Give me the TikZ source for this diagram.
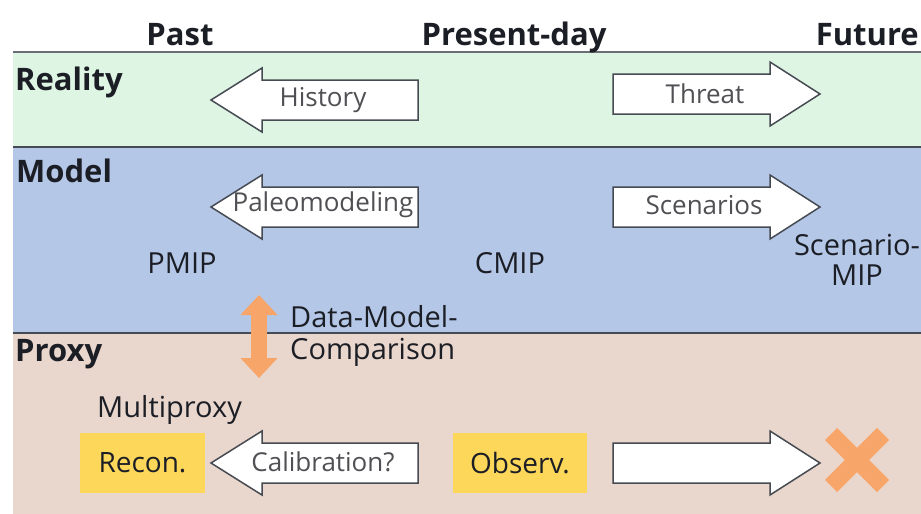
\documentclass[tikz,border=0pt]{standalone}
\usepackage{fontspec}
\setmainfont{Open Sans}
\usetikzlibrary{arrows.meta,positioning}
\definecolor{ink}{RGB}{28,30,38}
\definecolor{rule}{RGB}{70,74,82}
\definecolor{greyT}{RGB}{80,80,84}
\definecolor{realG}{RGB}{222,245,228}
\definecolor{modelB}{RGB}{180,199,231}
\definecolor{proxyT}{RGB}{233,214,204}
\definecolor{yel}{RGB}{252,215,90}
\definecolor{orng}{RGB}{247,165,105}
\tikzset{
  sep/.style={draw=rule,line width=2pt},
  hdr/.style={font=\fontsize{31}{36}\selectfont\bfseries,text=ink,inner sep=0pt},
  lbl/.style={font=\fontsize{29}{31}\selectfont,text=ink,inner sep=0pt},
  alab/.style={font=\fontsize{26}{30}\selectfont,text=greyT,inner sep=0pt},
  blk/.style={draw=rule,fill=white,line width=1.5pt,line join=miter},
  ybox/.style={fill=yel,minimum height=60pt,inner sep=0pt,font=\fontsize{28}{31}\selectfont,text=ink},
  dmarr/.style={draw=orng,line width=16pt,{Triangle[width=36pt,length=20pt]}-{Triangle[width=36pt,length=20pt]}},
  cross/.style={draw=orng,line width=17pt},
}
% block arrows: #1 = centre line of the arrow
\newcommand{\blkleft}[1]{\draw[blk] (211,#1) -- (262,#1-32) -- (262,#1-20) -- (418,#1-20)
  -- (418,#1+20) -- (262,#1+20) -- (262,#1+32) -- cycle;}
\newcommand{\blkright}[1]{\draw[blk] (820,#1) -- (770,#1-32) -- (770,#1-20) -- (613,#1-20)
  -- (613,#1+20) -- (770,#1+20) -- (770,#1+32) -- cycle;}

\begin{document}
\begin{tikzpicture}[x=1pt,y=-1pt]
\useasboundingbox (0,0) rectangle (921,514);
% bands
\fill[realG] (13,52) rectangle (921,147);
\fill[modelB] (13,147) rectangle (921,333);
\fill[proxyT] (13,333) rectangle (921,514);
\draw[sep,draw=rule!80] (13,52) -- (921,52);
\draw[sep] (13,147) -- (921,147);
\draw[sep] (13,333) -- (921,333);

% time axis
\node[hdr,anchor=base] (past) at (180,45) {Past};
\node[hdr,anchor=base] (present) at (514,45) {Present-day};
\node[hdr,anchor=base east] (future) at (919,45) {Future};

% rows
\node[hdr,anchor=base west] (reality) at (15,90) {Reality};
\node[hdr,anchor=base west] (model) at (16,182) {Model};
\node[hdr,anchor=base west] (proxy) at (15,361) {Proxy};

% reality
\blkleft{100}
\node[alab] (history) at (323,100) {History};
\blkright{94}
\node[alab] (threat) at (705,94) {Threat};

% model
\blkleft{207}
\node[alab] (paleo) at (323,205) {Paleomodeling};
\blkright{207}
\node[alab] (scen) at (704,205) {Scenarios};
\node[lbl,anchor=base] (pmip) at (182,273) {PMIP};
\node[lbl,anchor=base] (cmip) at (510,273) {CMIP};
\node[lbl,align=center,anchor=base,font=\fontsize{29}{30}\selectfont] (smip) at (857,285) {Scenario-\\MIP};

% data-model comparison
\coordinate (dmtop) at (259,295);
\coordinate (dmbot) at (259,378);
\draw[dmarr] (dmtop) -- (dmbot);
\node[lbl,align=left,anchor=base west,font=\fontsize{29}{32}\selectfont] (dmc) at (290,359) {Data-Model-\\Comparison};

% proxy
\node[lbl,anchor=base west] (multi) at (97,417) {Multiproxy};
\node[ybox,minimum width=125pt] (recon) at (142.5,463) {Recon.};
\node[ybox,minimum width=134pt] (obs) at (520,463) {Observ.};
\blkleft{463}
\node[alab] (calib) at (323,462) {Calibration?};
\blkright{463}
\coordinate (xc) at (857,460);
\draw[cross] ([shift={(-26,-26)}]xc) -- ([shift={(26,26)}]xc);
\draw[cross] ([shift={(26,-26)}]xc) -- ([shift={(-26,26)}]xc);
\end{tikzpicture}
\end{document}
